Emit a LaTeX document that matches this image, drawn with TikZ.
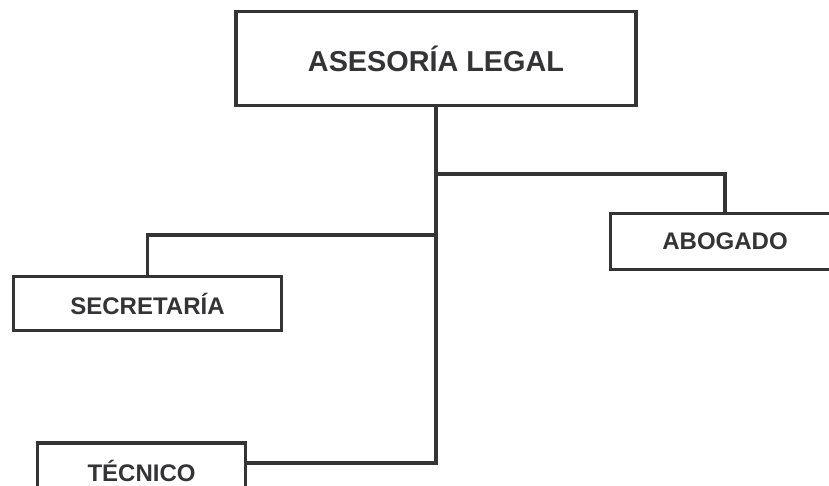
\documentclass[tikz,border=0pt]{standalone}
\usepackage{fontspec}
\setmainfont{Liberation Sans}
\definecolor{ink}{HTML}{343436}

\tikzset{
    box/.style={draw=ink, line width=3.5pt, fill=white, text=ink, inner sep=0pt,
                font=\bfseries\fontsize{24}{26}\selectfont},
    link/.style={draw=ink, line width=3.5pt}
}

\begin{document}
\begin{tikzpicture}[x=1pt, y=-1pt]
        \clip (0,0) rectangle (829,486); % page size
        \node[box, minimum width=400pt, minimum height=94pt,
              font=\bfseries\fontsize{28.8}{30}\selectfont] (legal) at (436,58.5) {ASESORÍA LEGAL};
        \node[box, minimum width=268pt, minimum height=54pt] (secretaria) at (147.5,303.5) {SECRETARÍA};
        \node[box, minimum width=229pt, minimum height=56pt] (abogado) at (725,241.5) {ABOGADO};
        \node[box, minimum width=208pt, minimum height=56pt] (tecnico) at (141.5,471) {TÉCNICO};
        \coordinate (jab) at (436,174); % branch abogado
        \coordinate (jse) at (436,235); % branch secretaria
        \coordinate (jte) at (436,463); % end of main line
        \draw[link] (legal.south) -- (jte) -- (jte -| tecnico.east);
        \draw[link] (jab) -| (abogado.north);
        \draw[link] (jse) -| (secretaria.north);
    \end{tikzpicture}
\end{document}
